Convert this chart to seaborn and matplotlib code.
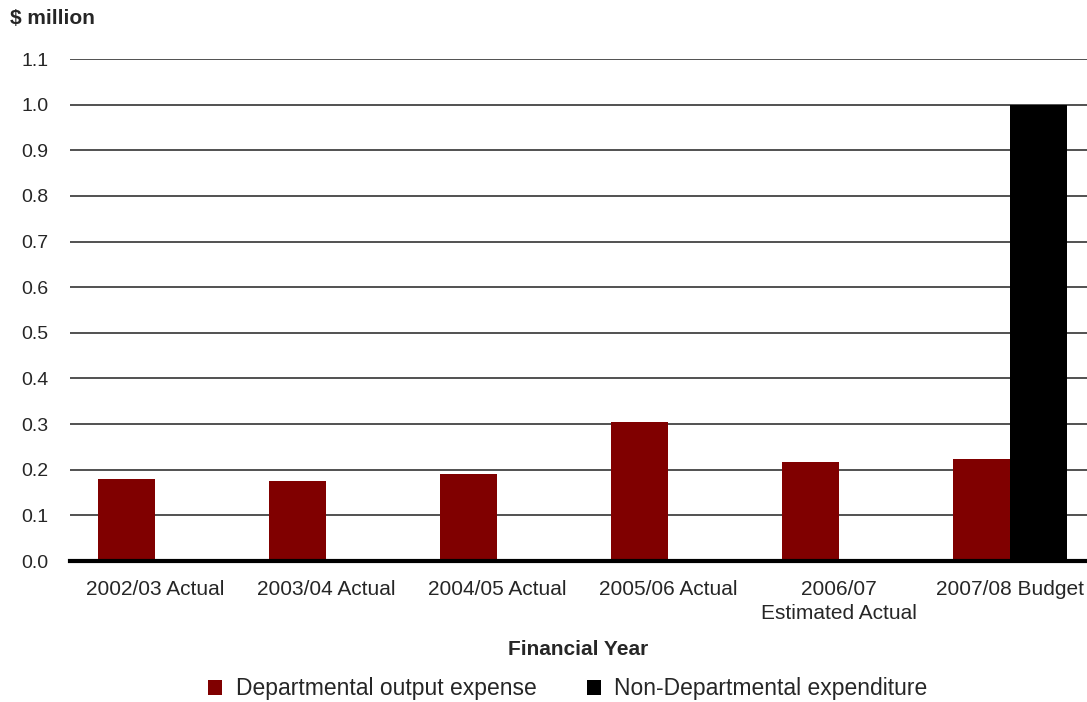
import numpy as np
import pandas as pd
import matplotlib
matplotlib.use("Agg")
import matplotlib.pyplot as plt
import seaborn as sns
from matplotlib.patches import Patch

years = ["2002/03 Actual", "2003/04 Actual", "2004/05 Actual",
         "2005/06 Actual", "2006/07\nEstimated Actual", "2007/08 Budget"]
departmental = [0.179, 0.175, 0.190, 0.304, 0.217, 0.223]
non_departmental = [0.0, 0.0, 0.0, 0.0, 0.0, 1.0]
series_names = ["Departmental output expense", "Non-Departmental expenditure"]
colors = ["#800000", "#000000"]

df = pd.DataFrame({
    "year": years * 2,
    "value": departmental + non_departmental,
    "series": [series_names[0]] * len(years) + [series_names[1]] * len(years),
})

sns.set_style("white")
plt.rcParams["font.family"] = ["Liberation Sans", "DejaVu Sans"]

fig = plt.figure(figsize=(10.87, 7.02), dpi=100)
ax = fig.add_axes([70 / 1087, 1 - 561 / 702, 1 - 70 / 1087, (561 - 59) / 702])

sns.barplot(data=df, x="year", y="value", hue="series", palette=colors,
            width=0.668, saturation=1, linewidth=0, ax=ax, legend=False)

ax.set_xlim(-0.5, 5.45)
ax.set_ylim(0, 1.1)
ax.set_yticks(np.arange(0, 1.11, 0.1))
ax.set_yticklabels(["%.1f" % v for v in np.arange(0, 1.11, 0.1)], fontsize=14)
ax.tick_params(axis="both", length=0)
ax.tick_params(axis="y", pad=15.5)
ax.tick_params(axis="x", pad=14, labelsize=15)
for lbl in ax.get_xticklabels():
    lbl.set_linespacing(1.3)
ax.yaxis.grid(True, color="#333333", linewidth=1.2)
ax.set_axisbelow(True)
for s in ["top", "right", "left"]:
    ax.spines[s].set_visible(False)
ax.spines["bottom"].set_linewidth(3)
ax.spines["bottom"].set_color("black")
ax.spines["bottom"].set_zorder(5)

ax.set_ylabel("")
ax.set_xlabel("Financial Year", fontsize=15, fontweight="bold", labelpad=12)
fig.text(10 / 1087, 1 - 19 / 702, "$ million", fontsize=15, fontweight="bold",
         va="center", ha="left")

handles = [Patch(facecolor=c, edgecolor="none") for c in colors]
fig.legend(handles, series_names, loc="center", bbox_to_anchor=(568 / 1087, 1 - 689 / 702),
           ncol=2, frameon=False, fontsize=16.5, handlelength=0.6, handleheight=0.6,
           columnspacing=2.2, handletextpad=0.6)

fig.savefig("out.png", dpi=100)
